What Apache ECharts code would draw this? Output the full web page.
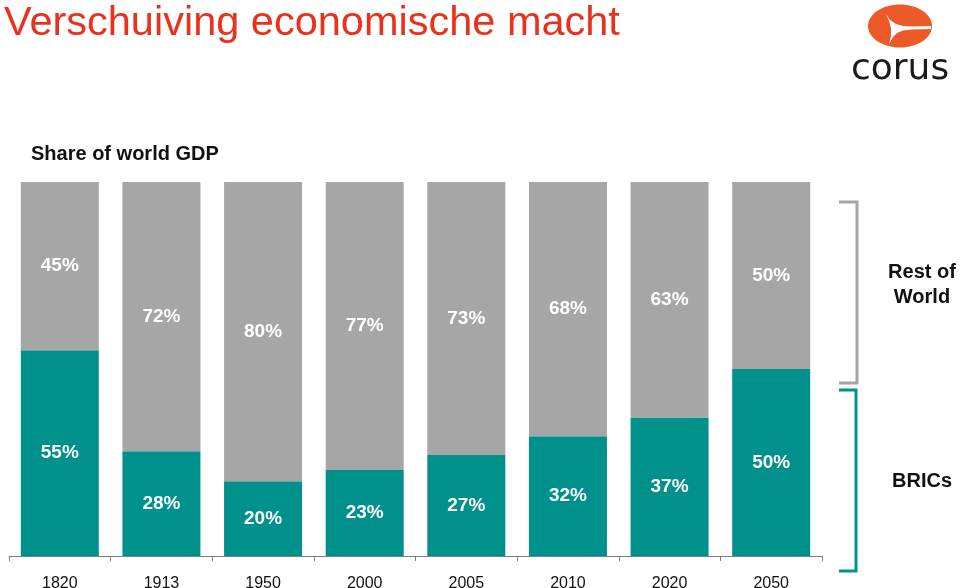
<!DOCTYPE html>
<html>
<head>
<meta charset="utf-8">
<script src="https://cdn.jsdelivr.net/npm/echarts@6/dist/echarts.min.js"></script>
<style>
html,body{margin:0;padding:0;background:#fff;}
#c{width:960px;height:588px;}
</style>
</head>
<body>
<div id="c"></div>
<script>
var categories = ['1820','1913','1950','2000','2005','2010','2020','2050'];
var brics = [55,28,20,23,27,32,37,50];
var restOfWorld = [45,72,80,77,73,68,63,50];
var seriesNames = ['BRICs','Rest of World'];

var TEAL = '#00918d';
var GRAY = '#a6a6a6';
var FONT = '"Liberation Sans", Arial, sans-serif';

var chart = echarts.init(document.getElementById('c'), null, {renderer:'canvas'});
var labelStyle = {show:true, position:'inside', color:'#fff', fontWeight:'bold', fontSize:19, fontFamily:FONT, formatter:'{c}%'};
chart.setOption({
  animation:false,
  grid:{left:9, right:138, top:182, bottom:32, containLabel:false, outerBoundsMode:'none'},
  xAxis:{type:'category', data:categories,
    axisLine:{lineStyle:{color:'#7f7f7f', width:1}},
    axisTick:{show:true, length:5, lineStyle:{color:'#7f7f7f'}},
    axisLabel:{color:'#111', fontSize:16, fontFamily:FONT, margin:20}},
  yAxis:{type:'value', min:0, max:100, show:false, splitLine:{show:false}},
  series:[
    {name:seriesNames[0], type:'bar', stack:'s', data:brics, barWidth:78, itemStyle:{color:TEAL}, label:labelStyle},
    {name:seriesNames[1], type:'bar', stack:'s', data:restOfWorld, barWidth:78, itemStyle:{color:GRAY}, label:labelStyle}
  ],
  graphic:[
    {type:'text', x:4, y:3, style:{text:'Verschuiving economische macht', fill:'#e8321e', font:'41.5px '+FONT}},
    {type:'text', x:31, y:144, style:{text:'Share of world GDP', fill:'#111', font:'bold 20px '+FONT}},
    {type:'ellipse', shape:{cx:900, cy:26, rx:32, ry:21.5}, style:{fill:'#ec5a29'}},
    {type:'polygon', shape:{points:[[886,14],[890,20],[896,24],[903,26],[912,26.5],[931,26],[931,29],[912,29.5],[903,30.5],[897,33],[893,37],[889,44],[891,36],[891,28],[889,21]]}, style:{fill:'#fff'}},
    {type:'text', x:851, y:52, style:{text:'corus', fill:'#1a1a1a', font:'36px "DejaVu Sans", sans-serif'}},
    {type:'polyline', shape:{points:[[839,202],[857,202],[857,383],[839,383]]}, style:{stroke:'#a6a6a6', lineWidth:3, fill:null}},
    {type:'polyline', shape:{points:[[839,390],[856,390],[856,571],[839,571]]}, style:{stroke:TEAL, lineWidth:3, fill:null}},
    {type:'text', x:922, y:285, style:{text:'Rest of\nWorld', fill:'#111', font:'bold 20px '+FONT, textAlign:'center', textVerticalAlign:'middle', lineHeight:25}},
    {type:'text', x:922, y:481, style:{text:'BRICs', fill:'#111', font:'bold 20px '+FONT, textAlign:'center', textVerticalAlign:'middle'}}
  ]
});
</script>
</body>
</html>
